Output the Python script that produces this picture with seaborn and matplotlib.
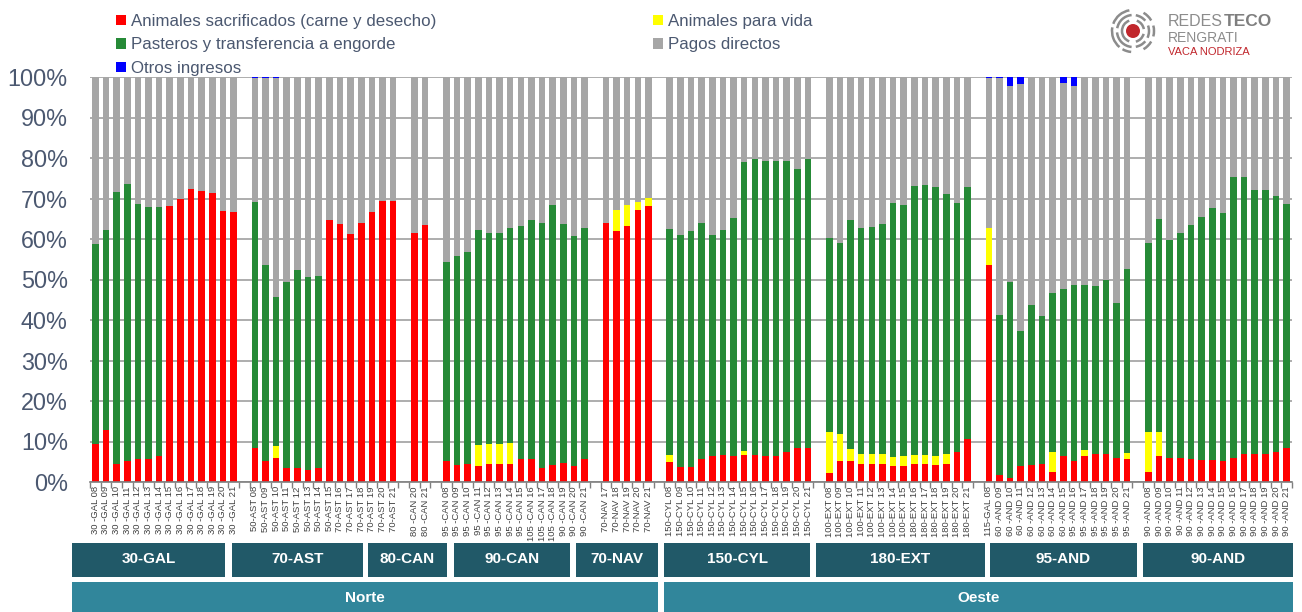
import numpy as np
import pandas as pd
import seaborn as sns
import matplotlib.pyplot as plt
from matplotlib.patches import Patch, Rectangle, Circle, Arc

# --- data -------------------------------------------------------------
grupos = ["30-GAL", "70-AST", "80-CAN", "90-CAN", "70-NAV",
          "150-CYL", "180-EXT", "95-AND", "90-AND"]
n_barras = [14, 14, 2, 14, 5, 14, 14, 14, 14]
regiones = ["Norte", "Oeste"]

etiquetas = [
    "30 -GAL 08", "30 -GAL 09", "30 -GAL 10", "30 -GAL 11", "30 -GAL 12", "30 -GAL 13", "30 -GAL 14",
    "30 -GAL 15", "30 -GAL 16", "30 -GAL 17", "30 -GAL 18", "30 -GAL 19", "30 -GAL 20", "30 -GAL 21",
    "50-AST 08", "50-AST 09", "50-AST 10", "50-AST 11", "50-AST 12", "50-AST 13", "50-AST 14",
    "50-AST 15", "70-AST 16", "70-AST 17", "70-AST 18", "70-AST 19", "70-AST 20", "70-AST 21",
    "80 -CAN 20", "80 -CAN 21",
    "95 -CAN 08", "95 -CAN 09", "95 -CAN 10", "95 -CAN 11", "95 -CAN 12", "95 -CAN 13", "95 -CAN 14",
    "95 -CAN 15", "105 -CAN 16", "105 -CAN 17", "105 -CAN 18", "90 -CAN 19", "90 -CAN 20", "90 -CAN 21",
    "70-NAV 17", "70-NAV 18", "70-NAV 19", "70-NAV 20", "70-NAV 21",
    "150-CYL 08", "150-CYL 09", "150-CYL 10", "150-CYL 11", "150-CYL 12", "150-CYL 13", "150-CYL 14",
    "150-CYL 15", "150-CYL 16", "150-CYL 17", "150-CYL 18", "150-CYL 19", "150-CYL 20", "150-CYL 21",
    "100-EXT 08", "100-EXT 09", "100-EXT 10", "100-EXT 11", "100-EXT 12", "100-EXT 13", "100-EXT 14",
    "100-EXT 15", "180-EXT 16", "180-EXT 17", "180-EXT 18", "180-EXT 19", "180-EXT 20", "180-EXT 21",
    "115-GAL 08", "60 -AND 09", "60 -AND 10", "60 -AND 11", "60 -AND 12", "60 -AND 13", "60 -AND 14",
    "60 -AND 15", "95 -AND 16", "95 -AND 17", "95 -AND 18", "95 -AND 19", "95 -AND 20", "95 -AND 21",
    "90 -AND 08", "90 -AND 09", "90 -AND 10", "90 -AND 11", "90 -AND 12", "90 -AND 13", "90 -AND 14",
    "90 -AND 15", "90 -AND 16", "90 -AND 17", "90 -AND 18", "90 -AND 19", "90 -AND 20", "90 -AND 21",
]

sacrificados = [
    9.5, 12.8, 4.5, 5.2, 5.6, 5.8, 6.4, 68.1, 70.0, 72.3, 71.8, 71.3, 66.9, 66.7,
    8.5, 5.3, 6.0, 3.5, 3.5, 2.9, 3.5, 64.6, 63.8, 61.2, 63.9, 66.6, 69.5, 69.3,
    61.6, 63.4,
    5.3, 4.2, 4.5, 4.0, 4.4, 4.4, 4.5, 5.6, 5.8, 3.5, 4.1, 4.7, 4.0, 5.7,
    63.9, 62.0, 63.3, 67.1, 68.1,
    4.9, 3.7, 3.7, 5.8, 6.4, 6.7, 6.5, 6.7, 6.6, 6.5, 6.5, 7.5, 8.4, 8.4,
    2.1, 5.1, 5.1, 4.5, 4.5, 4.4, 4.0, 4.0, 4.4, 4.4, 4.1, 4.4, 7.5, 10.5,
    53.5, 1.7, 0.9, 4.0, 4.3, 4.5, 2.5, 6.4, 5.3, 6.4, 7.0, 7.0, 5.9, 5.6,
    2.5, 6.5, 6.0, 6.0, 5.6, 5.5, 5.5, 5.3, 6.0, 7.0, 7.0, 7.0, 7.3, 8.3,
]
vida = [
    0, 0, 0, 0, 0, 0, 0, 0, 0, 0, 0, 0, 0, 0,
    0, 0, 3.0, 0, 0, 0, 0, 0, 0, 0, 0, 0, 0, 0,
    0, 0,
    0, 0, 0, 5.2, 5.1, 5.1, 5.2, 0, 0, 0, 0, 0, 0, 0,
    0, 5.2, 5.0, 2.0, 2.1,
    1.7, 0, 0, 0, 0, 0, 0, 1.0, 0, 0, 0, 0, 0, 0,
    10.3, 6.8, 3.0, 2.5, 2.5, 2.4, 2.2, 2.3, 2.3, 2.3, 2.3, 2.5, 0, 0,
    9.3, 0, 0, 0, 0, 0, 4.9, 0, 0, 1.6, 0, 0, 0, 1.6,
    9.8, 5.8, 0, 0, 0, 0, 0, 0, 0, 0, 0, 0, 0, 0,
]
pasteros = [
    49.3, 49.3, 67.2, 68.3, 63.0, 62.1, 61.4, 0, 0, 0, 0, 0, 0, 0,
    60.6, 48.4, 36.8, 45.8, 48.8, 47.6, 47.3, 0, 0, 0, 0, 0, 0, 0,
    0, 0,
    48.9, 51.6, 52.3, 52.9, 52.0, 52.1, 52.9, 57.6, 58.8, 60.4, 64.3, 58.9, 56.7, 57.0,
    0, 0, 0, 0, 0,
    55.8, 57.3, 58.2, 58.1, 54.6, 55.6, 58.8, 71.3, 73.1, 72.7, 72.8, 71.7, 69.0, 71.3,
    47.8, 47.0, 56.5, 55.7, 56.0, 56.8, 62.7, 62.1, 66.4, 66.6, 66.4, 64.1, 61.4, 62.3,
    0, 39.5, 48.6, 33.4, 39.3, 36.4, 39.3, 41.3, 43.3, 40.6, 41.5, 43.0, 38.3, 45.4,
    46.7, 52.7, 53.8, 55.5, 57.9, 60.0, 62.2, 61.2, 69.3, 68.3, 65.0, 65.2, 63.4, 60.4,
]
otros = [
    0, 0, 0, 0, 0, 0, 0, 0, 0, 0, 0, 0, 0, 0,
    0.3, 0.3, 0.3, 0, 0, 0, 0, 0, 0, 0, 0, 0, 0, 0,
    0, 0,
    0, 0, 0, 0, 0, 0, 0, 0, 0, 0, 0, 0, 0, 0,
    0, 0, 0, 0, 0,
    0, 0, 0, 0, 0, 0, 0, 0, 0, 0, 0, 0, 0, 0,
    0, 0, 0, 0, 0, 0, 0, 0, 0, 0, 0, 0, 0, 0,
    0.3, 0.2, 2.3, 1.8, 0, 0, 0, 1.5, 2.1, 0, 0, 0, 0, 0,
    0, 0, 0, 0, 0, 0, 0, 0, 0, 0, 0, 0, 0, 0,
]

series = ["Animales sacrificados (carne y desecho)", "Animales para vida",
          "Pasteros y transferencia a engorde", "Pagos directos", "Otros ingresos"]
colores = ["#ff0000", "#ffff00", "#268a37", "#a6a6a6", "#0000ff"]

df = pd.DataFrame({"etiqueta": etiquetas, series[0]: sacrificados, series[1]: vida,
                   series[2]: pasteros, series[4]: otros})
# gray is whatever is left up to 100%
df[series[3]] = 100 - df[[series[0], series[1], series[2], series[4]]].sum(axis=1)
acum = df[series].cumsum(axis=1)

# category order with one empty slot between groups
orden = []
k = 0
for i, n in enumerate(n_barras):
    orden += etiquetas[k:k + n]
    k += n
    if i < len(n_barras) - 1:
        orden.append(" " * (i + 1))

# --- figure -----------------------------------------------------------
W, H = 1302, 612
sns.set_theme(style="white")
plt.rcParams["font.family"] = ["Liberation Sans", "DejaVu Sans"]
txt = "#4b5870"

fig = plt.figure(figsize=(W / 100, H / 100), dpi=100)
ax = fig.add_axes([90 / W, 130 / H, 1202 / W, 405 / H])

for s, c in reversed(list(zip(series, colores))):
    alto = acum[s].where(df[s] > 0)
    sns.barplot(x=df["etiqueta"], y=alto, order=orden, color=c, width=0.62,
                saturation=1, errorbar=None, linewidth=0, ax=ax)

ax.set_xlim(-0.5, len(orden) - 0.5)
ax.set_ylim(0, 100)
ax.set_yticks(range(0, 101, 10))
ax.set_yticklabels([f"{v}%" for v in range(0, 101, 10)], fontsize=16.8, color=txt)
ax.set_xticks(range(len(orden)))
ax.set_xticklabels(orden, rotation=90, fontsize=6.8, color="#404040")
ax.set_xticks(np.arange(-0.5, len(orden)), minor=True)
ax.tick_params(axis="x", which="major", length=0, pad=3)
ax.tick_params(axis="x", which="minor", length=4, width=1, color="#7f7f7f", bottom=True)
ax.tick_params(axis="y", length=0, pad=16)
ax.set_xlabel("")
ax.set_ylabel("")
ax.yaxis.grid(True, color="#a0a0a0", lw=1.2)
ax.set_axisbelow(True)
for side in ["top", "right", "left"]:
    ax.spines[side].set_visible(False)
ax.spines["bottom"].set_color("#7f7f7f")
ax.spines["bottom"].set_linewidth(1.2)

# legend, two columns filled row by row
hs = [Patch(facecolor=c, edgecolor="none") for c in colores]
legkw = dict(loc="upper left", frameon=False, fontsize=12.2, labelcolor=txt,
             handlelength=0.58, handleheight=0.58, handletextpad=0.3,
             labelspacing=0.5, borderaxespad=0, borderpad=0)
fig.legend([hs[0], hs[2], hs[4]], [series[0], series[2], series[4]],
           bbox_to_anchor=(116 / W, 1 - 14 / H), **legkw)
fig.legend([hs[1], hs[3]], [series[1], series[3]],
           bbox_to_anchor=(653 / W, 1 - 14 / H), **legkw)

# group / region boxes under the axis
caja_grupo = [(72, 225), (232, 363), (368, 447), (454, 570), (576, 658),
              (664, 810), (816, 985), (990, 1137), (1143, 1293)]
caja_region = [(72, 658), (664, 1293)]
for (x0, x1), g in zip(caja_grupo, grupos):
    fig.add_artist(Rectangle((x0 / W, 1 - 577 / H), (x1 - x0) / W, 34 / H,
                             transform=fig.transFigure, color="#215968", lw=0))
    fig.text((x0 + x1) / 2 / W, 1 - 559 / H, g, color="white", fontsize=11,
             fontweight="bold", ha="center", va="center")
for (x0, x1), r in zip(caja_region, regiones):
    fig.add_artist(Rectangle((x0 / W, 0), (x1 - x0) / W, 30 / H,
                             transform=fig.transFigure, color="#31869b", lw=0))
    fig.text((x0 + x1) / 2 / W, 1 - 598 / H, r, color="white", fontsize=11,
             fontweight="bold", ha="center", va="center")

# logo
axl = fig.add_axes([1106 / W, 1 - 58 / H, 54 / W, 54 / H])
axl.set_xlim(-27, 27)
axl.set_ylim(-27, 27)
axl.axis("off")
axl.add_patch(Circle((0, 0), 7, color="#c1272d", lw=0))
arcos = {11: [(110, 250), (285, 345), (10, 70)],
         16: [(95, 170), (185, 265), (280, 320), (335, 380), (40, 80)],
         21: [(100, 160), (170, 230), (240, 265), (300, 330), (345, 375), (30, 60)]}
for r, tramos in arcos.items():
    for t1, t2 in tramos:
        axl.add_patch(Arc((0, 0), 2 * r, 2 * r, theta1=t1, theta2=t2,
                          color="#8c8c8c", lw=1.8))
fig.text(1168 / W, 1 - 21 / H, "REDES", fontsize=11.5, color="#8c8c8c", va="center")
fig.text(1224 / W, 1 - 21 / H, "TECO", fontsize=12.5, color="#7f7f7f",
         fontweight="bold", va="center")
fig.text(1168 / W, 1 - 38 / H, "RENGRATI", fontsize=10, color="#8c8c8c", va="center")
fig.text(1168 / W, 1 - 52 / H, "VACA NODRIZA", fontsize=8, color="#c1272d", va="center")

fig.savefig("out.png", dpi=100)
